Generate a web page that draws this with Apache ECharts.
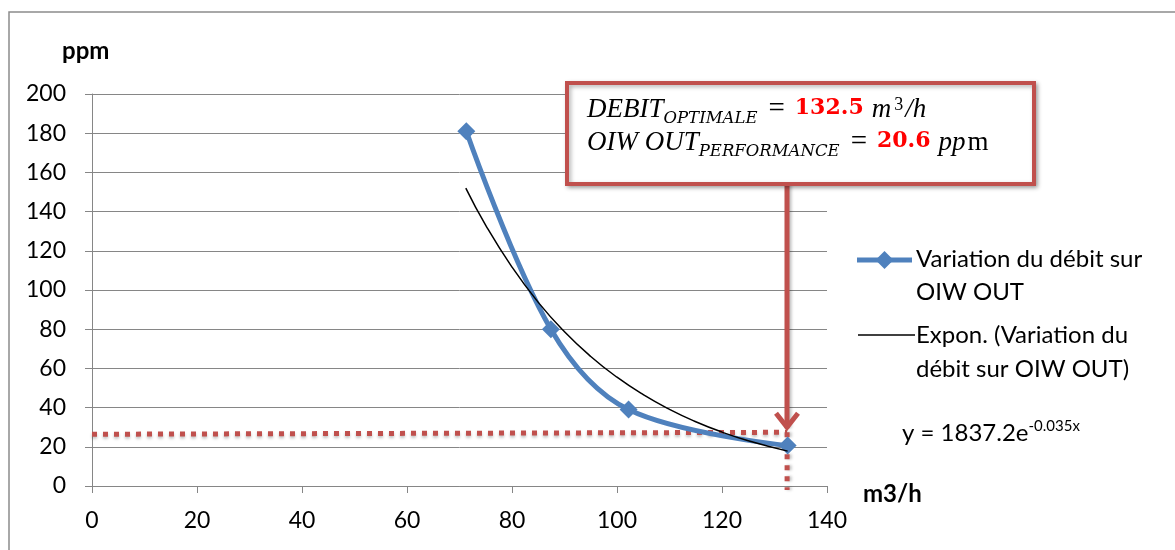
<!DOCTYPE html>
<html>
<head>
<meta charset="utf-8">
<script src="https://cdn.jsdelivr.net/npm/echarts@6/dist/echarts.min.js"></script>
<style>
html,body{margin:0;padding:0;background:#fff;}
#chart{width:1175px;height:550px;}
</style>
</head>
<body>
<div id="chart"></div>
<script>
// ---- data ----
var debit = [71.3, 87.4, 102.2, 132.5];           // m3/h
var oiwOut = [181, 80, 39, 20.6];                 // ppm
var trendX = [71.2, 75, 80, 85, 90, 95, 100, 105, 110, 115, 120, 125, 132.5];
var trendY = [152, 133, 111.7, 93.7, 78.7, 66.1, 55.5, 46.6, 39.1, 32.8, 27.5, 23.1, 17.8];
var guideY = [26.4, 27.4];                        // red dotted horizontal (left, right)
var guideX = 132.4;                               // red dotted vertical
var guideBottom = -2;
var seriesName = 'Variation du débit sur OIW OUT';
var trendName = 'Expon. (Variation du débit sur OIW OUT)';
var debitOpt = '132.5';
var oiwPerf = '20.6';

var FONT = 'Lato';
var GREY = '#868686';
var BLUE = '#4f81bd';
var RED = '#c0504d';

function pairs(xs, ys){ return xs.map(function(x,i){ return [x, ys[i]]; }); }

var chart = echarts.init(document.getElementById('chart'), null, {renderer:'canvas'});

var option = {
  backgroundColor: '#fff',
  animation: false,
  grid: {left: 92, right: 348, top: 94, bottom: 64},
  xAxis: {
    type: 'value', min: 0, max: 140, interval: 20,
    axisLine: {show: true, lineStyle: {color: GREY, width: 1}},
    axisTick: {show: true, length: 7, lineStyle: {color: GREY}},
    axisLabel: {color: '#000', fontFamily: FONT, fontSize: 23, margin: 23},
    splitLine: {show: false}
  },
  yAxis: {
    type: 'value', min: 0, max: 200, interval: 20,
    axisLine: {show: true, lineStyle: {color: GREY, width: 1}},
    axisTick: {show: true, length: 7, lineStyle: {color: GREY}},
    axisLabel: {color: '#000', fontFamily: FONT, fontSize: 23, margin: 26},
    splitLine: {show: true, lineStyle: {color: GREY, width: 1}}
  },
  series: [
    {
      name: 'guideH', type: 'line', data: [[0, guideY[0]], [guideX, guideY[1]]],
      symbol: 'none', clip: false, z: 2, silent: true,
      lineStyle: {color: RED, width: 5, type: [5, 6], cap: 'butt',
        shadowColor: 'rgba(0,0,0,0.25)', shadowBlur: 3, shadowOffsetY: 2}
    },
    {
      name: 'guideV', type: 'line', data: [[guideX, guideY[1]], [guideX, guideBottom]],
      symbol: 'none', clip: false, z: 2, silent: true,
      lineStyle: {color: RED, width: 5, type: [5, 6], cap: 'butt',
        shadowColor: 'rgba(0,0,0,0.25)', shadowBlur: 3, shadowOffsetX: 2}
    },
    {
      name: seriesName, type: 'line', data: pairs(debit, oiwOut),
      smooth: 0.35, symbol: 'diamond', symbolSize: 18, z: 3,
      lineStyle: {color: BLUE, width: 5},
      itemStyle: {color: BLUE}
    },
    {
      name: trendName, type: 'line', data: pairs(trendX, trendY),
      smooth: true, symbol: 'none', z: 4,
      lineStyle: {color: '#000', width: 1.5}
    }
  ]
};
chart.setOption(option);

// positions from the chart's scales
var tip = chart.convertToPixel({gridIndex: 0}, [guideX, guideY[1]]);
var ax = Math.round(tip[0]);

var boxL = 567, boxT = 83, boxW = 467, boxH = 101;
var serif = 'Liberation Serif';
var LH = 33;
var rich = {
  i:   {fontFamily: serif, fontStyle: 'italic', fontSize: 27, lineHeight: LH, fill: '#000'},
  mi:  {fontFamily: serif, fontStyle: 'italic', fontSize: 27, lineHeight: LH, fill: '#000', padding: [0, 2, 0, 8]},
  n:   {fontFamily: serif, fontSize: 27, lineHeight: LH, fill: '#000'},
  eq:  {fontFamily: serif, fontSize: 29, lineHeight: LH, fill: '#000', padding: [0, 10, 0, 11]},
  sub: {fontFamily: 'DejaVu Serif', fontStyle: 'italic', fontSize: 16.5, lineHeight: LH, fill: '#000', padding: [18, 0, 0, 0]},
  sup: {fontFamily: serif, fontSize: 18, lineHeight: LH, fill: '#000', padding: [0, 2, 9, 1]},
  b:   {fontFamily: 'DejaVu Serif', fontWeight: 'bold', fontSize: 22, lineHeight: LH, fill: '#ff0000', padding: [0, 0, 2, 0]}
};

function txt(x, y, extra, z){
  var st = Object.assign({x: x, y: y, verticalAlign: 'top', align: 'left', fontFamily: FONT, fontSize: 23, fill: '#000'}, extra);
  return {type: 'text', z: z || 5, style: st};
}

chart.setOption({
  graphic: [
    // outer chart border
    {type: 'rect', shape: {x: 9, y: 12, width: 1300, height: 700}, silent: true,
      style: {fill: 'none', stroke: '#8c8c8c', lineWidth: 1.5}, z: 0},
    // axis titles
    txt(62, 39, {text: 'ppm', fontWeight: 'bold', fontSize: 24}),
    txt(863, 482, {text: 'm3/h', fontWeight: 'bold', fontSize: 24}),
    // arrow from the box down to the optimum
    {type: 'line', shape: {x1: ax, y1: boxT + boxH, x2: ax, y2: tip[1] - 4}, z: 10,
      style: {stroke: RED, lineWidth: 5, shadowColor: 'rgba(0,0,0,0.25)', shadowBlur: 3, shadowOffsetX: 2}},
    {type: 'polyline', shape: {points: [[ax - 11, tip[1] - 19], [ax, tip[1] - 5], [ax + 11, tip[1] - 19]]}, z: 10,
      style: {stroke: RED, lineWidth: 5, fill: 'none', lineJoin: 'miter'}},
    // annotation box
    {type: 'rect', shape: {x: boxL, y: boxT, width: boxW, height: boxH}, z: 11,
      style: {fill: '#fff', stroke: RED, lineWidth: 4, shadowColor: 'rgba(0,0,0,0.3)', shadowBlur: 4, shadowOffsetX: 2, shadowOffsetY: 2}},
    txt(587, 93, {
        text: '{i|DEBIT}{sub|OPTIMALE}{eq|=}{b|' + debitOpt + '}{mi|m}{sup|3}{i|/h}\n' +
              '{i|OIW OUT}{sub|PERFORMANCE}{eq|=}{b|' + oiwPerf + '}{mi|pp}{n|m}',
        rich: rich
      }, 12),
    // legend
    {type: 'line', shape: {x1: 857, y1: 260, x2: 912, y2: 260}, style: {stroke: BLUE, lineWidth: 5}, z: 5},
    {type: 'polygon', shape: {points: [[884.5, 251], [893.5, 260], [884.5, 269], [875.5, 260]]}, style: {fill: BLUE}, z: 6},
    txt(916, 243, {text: 'Variation du débit sur\nOIW OUT', lineHeight: 33, fontSize: 24}),
    {type: 'line', shape: {x1: 858, y1: 335, x2: 915, y2: 335}, style: {stroke: '#000', lineWidth: 1.5}, z: 5},
    txt(916, 318, {text: 'Expon. (Variation du\ndébit sur OIW OUT)', lineHeight: 34, fontSize: 24}),
    txt(902, 418, {
      text: '{a|y = 1837.2e}{s|-0.035x}',
      rich: {a: {fontFamily: FONT, fontSize: 24, fill: '#000', lineHeight: 30},
             s: {fontFamily: FONT, fontSize: 15, fill: '#000', lineHeight: 30, padding: [0, 0, 14, 0]}}
    })
  ]
});
</script>
</body>
</html>
